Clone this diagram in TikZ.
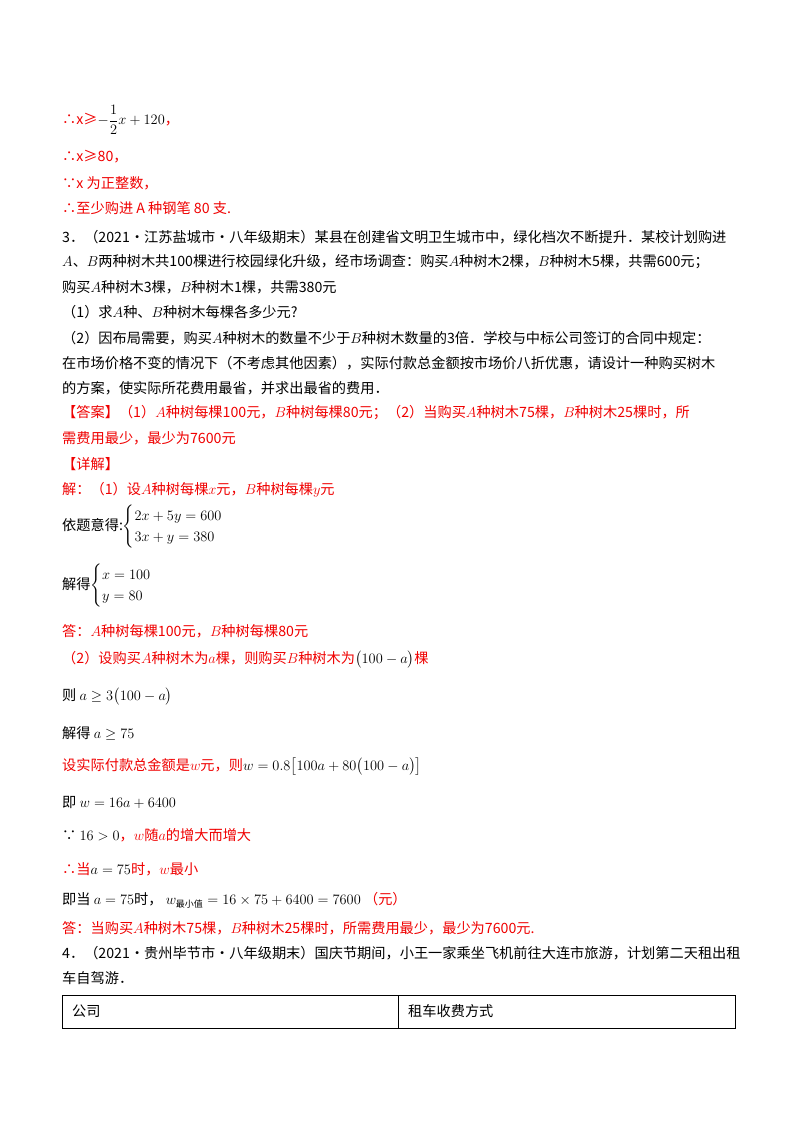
\documentclass[tikz,border=0pt]{standalone}
\usepackage{amsmath}
\usepackage{fontspec}
\setmainfont{Noto Sans CJK SC}
\definecolor{rd}{RGB}{240,0,0}
\newcommand{\R}[1]{\textcolor{rd}{#1}}
\begin{document}
\begin{tikzpicture}[x=1pt,y=-1pt,
  ln/.style={anchor=west,inner sep=0pt,font=\fontsize{14.2}{17}\selectfont}]
\useasboundingbox (0,0) rectangle (800,1132);
\fill[white] (0,0) rectangle (800,1132);
\node[ln] (l1) at (62,120) {\R{∴x≥}$-\dfrac{1}{2}x+120$\R{，}};
\node[ln] (l2) at (62,157) {\R{∴x≥80，}};
\node[ln] (l3) at (62,183) {\R{∵x 为正整数，}};
\node[ln] (l4) at (62,208) {\R{∴至少购进 A 种钢笔 80 支.}};
\node[ln] (l5) at (62,237) {3．（2021·江苏盐城市·八年级期末）某县在创建省文明卫生城市中，绿化档次不断提升．某校计划购进};
\node[ln] (l6) at (62,262) {$A$、$B$两种树木共100棵进行校园绿化升级，经市场调查：购买$A$种树木2棵，$B$种树木5棵，共需600元；};
\node[ln] (l7) at (62,287) {购买$A$种树木3棵，$B$种树木1棵，共需380元};
\node[ln] (l8) at (62,312) {（1）求$A$种、$B$种树木每棵各多少元?};
\node[ln] (l9) at (62,338) {（2）因布局需要，购买$A$种树木的数量不少于$B$种树木数量的3倍．学校与中标公司签订的合同中规定：};
\node[ln] (l10) at (62,363) {在市场价格不变的情况下（不考虑其他因素），实际付款总金额按市场价八折优惠，请设计一种购买树木};
\node[ln] (l11) at (62,388) {的方案，使实际所花费用最省，并求出最省的费用．};
\node[ln] (l12) at (62,413) {\R{【答案】（1）$A$种树每棵100元，$B$种树每棵80元；（2）当购买$A$种树木75棵，$B$种树木25棵时，所}};
\node[ln] (l13) at (62,438) {\R{需费用最少，最少为7600元}};
\node[ln] (l14) at (62,464) {\R{【详解】}};
\node[ln] (l15) at (62,490) {\R{解：（1）设$A$种树每棵$x$元，$B$种树每棵$y$元}};
\node[ln] (l16) at (62,527) {依题意得:$\begin{cases}2x+5y=600\\3x+y=380\end{cases}$};
\node[ln] (l17) at (62,586) {解得$\begin{cases}x=100\\y=80\end{cases}$};
\node[ln] (l18) at (62,631) {\R{答：$A$种树每棵100元，$B$种树每棵80元}};
\node[ln] (l19) at (62,660) {\R{（2）设购买$A$种树木为$a$棵，则购买$B$种树木为}$\bigl(100-a\bigr)$\R{棵}};
\node[ln] (l20) at (62,697) {则 $a\ge 3\bigl(100-a\bigr)$};
\node[ln] (l21) at (62,733) {解得 $a\ge 75$};
\node[ln] (l22) at (62,767) {\R{设实际付款总金额是$w$元，则}$w=0.8\bigl[100a+80\bigl(100-a\bigr)\bigr]$};
\node[ln] (l23) at (62,802) {即 $w=16a+6400$};
\node[ln] (l24) at (62,835) {∵ $16>0$\R{，$w$随$a$的增大而增大}};
\node[ln] (l25) at (62,869) {\R{∴当}$a=75$\R{时，$w$最小}};
\node[ln] (l26) at (62,900) {即当 $a=75$时， $w_{\text{\fontsize{9}{10}\selectfont 最小值}}=16\times75+6400=7600$ \R{（元）}};
\node[ln] (l27) at (62,928) {\R{答：当购买$A$种树木75棵，$B$种树木25棵时，所需费用最少，最少为7600元.}};
\node[ln] (l28) at (62,953) {4．（2021·贵州毕节市·八年级期末）国庆节期间，小王一家乘坐飞机前往大连市旅游，计划第二天租出租};
\node[ln] (l29) at (62,978) {车自驾游．};
\draw[line width=0.8pt] (62,995) rectangle (735,1028);
\draw[line width=0.8pt] (398,995) -- (398,1028);
\node[ln] (t1) at (72,1011) {公司};
\node[ln] (t2) at (408,1011) {租车收费方式};
\end{tikzpicture}
\end{document}
